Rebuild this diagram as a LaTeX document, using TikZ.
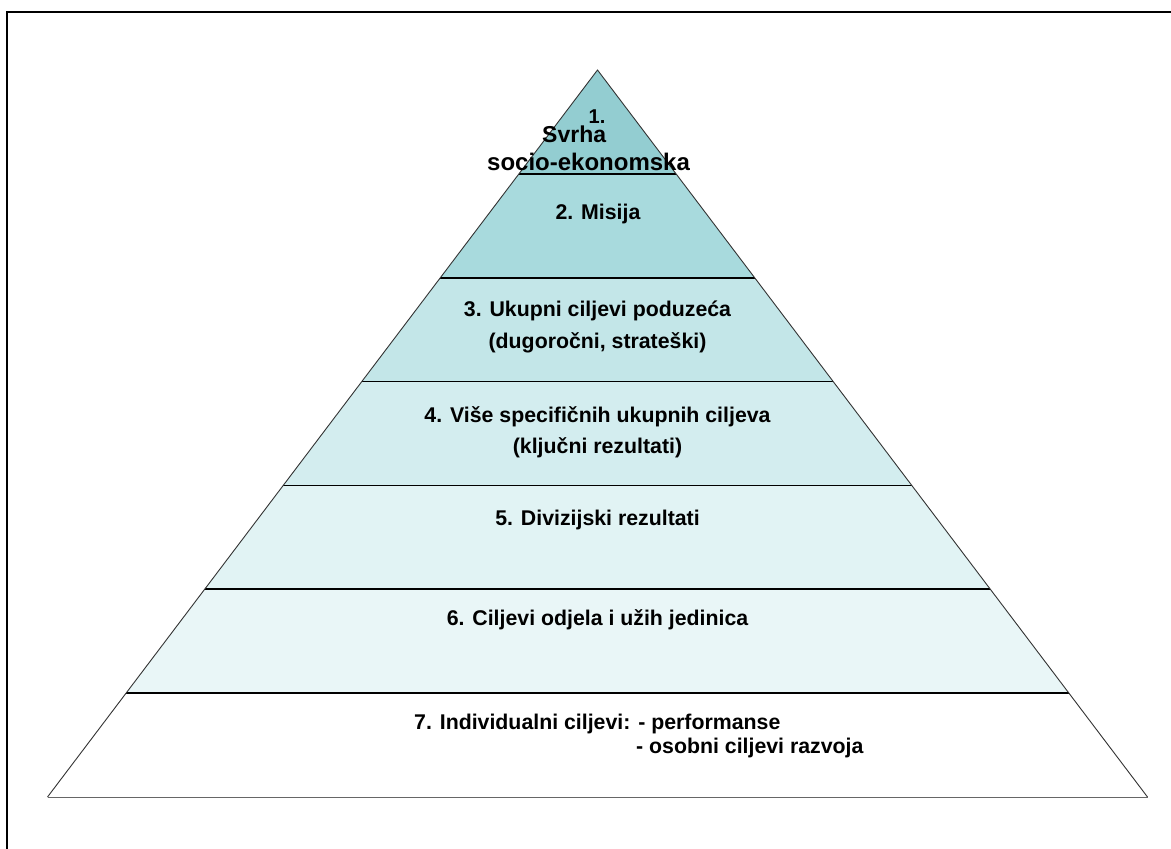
\documentclass[tikz,border=0pt]{standalone}
\usepackage{fontspec}
\setmainfont{Liberation Sans}
\usetikzlibrary{calc}
\definecolor{bandA}{HTML}{93CDD1}
\definecolor{bandB}{HTML}{A8DADD}
\definecolor{bandC}{HTML}{C3E6E8}
\definecolor{bandD}{HTML}{D3EDEF}
\definecolor{bandE}{HTML}{E1F3F4}
\definecolor{bandF}{HTML}{E9F6F7}
\definecolor{bandG}{HTML}{FFFFFF}
\tikzset{
  lbl/.style={font=\bfseries\fontsize{21.3}{24}\selectfont, inner sep=0pt, anchor=base},
  lblw/.style={lbl, anchor=base west},
  tight/.style={text height=0.7em, text depth=0pt},
  divider/.style={draw=black, line width=1.6pt},
  side/.style={draw=black!80, line width=0.9pt},
  baseline/.style={draw=black!60, line width=1pt},
  frameline/.style={draw=black, line width=2pt}
}
\begin{document}
\begin{tikzpicture}[x=1pt,y=-1pt]
\useasboundingbox (0,0) rectangle (1171,849);
% frame (cropped)
\coordinate (fb) at (7,849);
\coordinate (fc) at (7,12);
\coordinate (fr) at (1171,12);
\draw[frameline] (fb) -- (fc) -- (fr);
% pyramid
\coordinate (A) at (597.5,70);
\coordinate (L) at (47.5,797);
\coordinate (R) at (1147.5,797);
\foreach \i/\c in {1/bandA,2/bandB,3/bandC,4/bandD,5/bandE,6/bandF,7/bandG}{
  \pgfmathsetmacro{\ta}{(\i-1)/7}
  \pgfmathsetmacro{\tb}{\i/7}
  \fill[\c] ($(A)!\ta!(L)$) -- ($(A)!\ta!(R)$) -- ($(A)!\tb!(R)$) -- ($(A)!\tb!(L)$) -- cycle;
}
\foreach \i in {1,...,6}{
  \pgfmathsetmacro{\tb}{\i/7}
  \draw[divider] ($(A)!\tb!(L)$) -- ($(A)!\tb!(R)$);
}
\draw[side] (L) -- (A) -- (R);
\draw[baseline] (L) -- (R);
% texts
\node[lbl, tight, font=\bfseries\fontsize{20}{20}\selectfont] (t1a) at (597,123) {1.};
\node[lblw, tight, font=\bfseries\fontsize{23}{24}\selectfont] (t1b) at (542,142) {Svrha};
\node[lblw, tight, font=\bfseries\fontsize{24}{26}\selectfont] (t1c) at (487,170) {socio-ekonomska};
\node[lbl] (t2) at (598,219.5) {2. Misija};
\node[lbl] (t3a) at (597.5,316) {3. Ukupni ciljevi poduzeća};
\node[lbl] (t3b) at (597.5,348) {(dugoročni, strateški)};
\node[lbl] (t4a) at (597.5,422) {4. Više specifičnih ukupnih ciljeva};
\node[lbl] (t4b) at (597.5,453) {(ključni rezultati)};
\node[lbl] (t5) at (597.5,525) {5. Divizijski rezultati};
\node[lbl] (t6) at (597.5,625) {6. Ciljevi odjela i užih jedinica};
\node[lblw] (t7a) at (414,729) {7. Individualni ciljevi: - performanse};
\node[lblw] (t7b) at (636,753) {- osobni ciljevi razvoja};
\end{tikzpicture}
\end{document}
